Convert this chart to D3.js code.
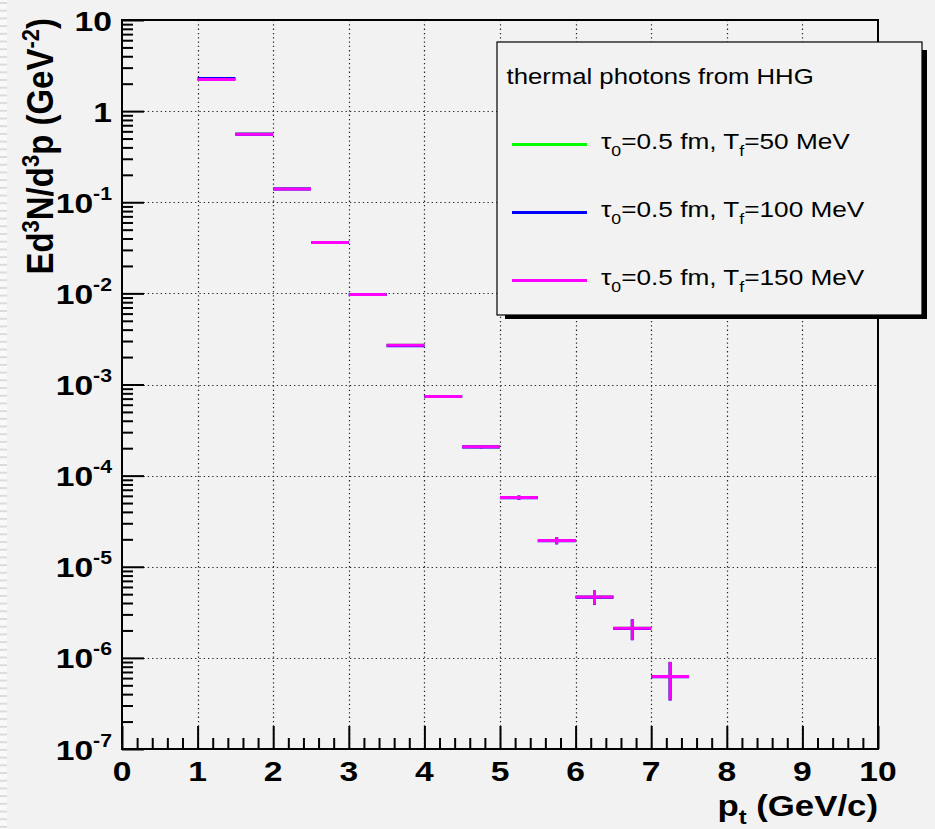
<!DOCTYPE html>
<html>
<head>
<meta charset="utf-8">
<script src="https://cdn.jsdelivr.net/npm/d3@7/dist/d3.min.js"></script>
<style>
  html, body { margin: 0; padding: 0; background: #f2f2f2; }
  svg { display: block; }
  text { font-family: "Liberation Sans", Arial, Helvetica, sans-serif; fill: #000; }
</style>
</head>
<body>
<svg id="chart" width="935" height="829"></svg>
<script>
// Thermal photon spectra from a hadron gas: three freeze-out temperatures.
const ptCenters = [1.25, 1.75, 2.25, 2.75, 3.25, 3.75, 4.25, 4.75, 5.25, 5.75, 6.25, 6.75, 7.25];
const binHalfWidth = 0.25;

const yieldTf50  = [2.23, 0.562, 0.1405, 0.0362, 0.00973, 0.00270, 7.40e-4, 2.07e-4, 5.75e-5, 1.94e-5, 4.67e-6, 2.11e-6, 6.24e-7];
const yieldTf100 = [2.28, 0.556, 0.1395, 0.0362, 0.00970, 0.00266, 7.38e-4, 2.06e-4, 5.73e-5, 1.93e-5, 4.64e-6, 2.10e-6, 6.20e-7];
const yieldTf150 = [2.23, 0.556, 0.1400, 0.0362, 0.00973, 0.00270, 7.39e-4, 2.07e-4, 5.75e-5, 1.94e-5, 4.67e-6, 2.11e-6, 6.24e-7];
const errTf150   = [0.004, 0.001, 0.0003, 0.0001, 0.00003, 0.00001, 2e-6, 7e-6, 3e-6, 1.7e-6, 0.84e-6, 0.54e-6, 2.8e-7];

const seriesNames  = ["\u03c4|0|=0.5 fm, T|f|=50 MeV", "\u03c4|0|=0.5 fm, T|f|=100 MeV", "\u03c4|0|=0.5 fm, T|f|=150 MeV"];
const seriesColors = ["#00ff00", "#0000ff", "#ff00ff"];
const legendTitle = "thermal photons from HHG";

const xTickValues = [0, 1, 2, 3, 4, 5, 6, 7, 8, 9, 10];
const yTickExponents = [1, 0, -1, -2, -3, -4, -5, -6, -7];

const STRETCH = 1.18;   // glyphs are drawn slightly wide

const svg = d3.select("#chart");
const W = 935, H = 829;
const frame = { left: 122, right: 878, top: 20, bottom: 749 };

// page background and the narrow striped strip on the left edge
svg.append("rect").attr("width", W).attr("height", H).attr("fill", "#f2f2f2");
svg.append("rect").attr("x", 0).attr("y", 0).attr("width", 7).attr("height", H).attr("fill", "#f9f9f9");
svg.append("g").selectAll("rect").data(d3.range(2, H, 7.7)).join("rect")
  .attr("x", 0).attr("y", d => d).attr("width", 7).attr("height", 2).attr("fill", "#dcdcdc");

const x = d3.scaleLinear().domain([0, 10]).range([frame.left, frame.right]);
const y = d3.scaleLog().domain([1e-7, 10]).range([frame.bottom, frame.top]);

// dotted grid
const grid = svg.append("g").attr("stroke", "#222").attr("stroke-width", 1.2).attr("stroke-dasharray", "1.3,3");
grid.selectAll("line.gx").data(xTickValues.slice(1, -1)).join("line")
  .attr("x1", d => Math.round(x(d)) + 0.5).attr("x2", d => Math.round(x(d)) + 0.5)
  .attr("y1", frame.top).attr("y2", frame.bottom);
grid.selectAll("line.gy").data(yTickExponents.slice(1, -1)).join("line")
  .attr("x1", frame.left).attr("x2", frame.right)
  .attr("y1", d => Math.round(y(Math.pow(10, d))) + 0.5).attr("y2", d => Math.round(y(Math.pow(10, d))) + 0.5);

// axis ticks (major and minor) from d3 axes
const xMinor = d3.range(0, 10.001, 0.2).filter(v => Math.abs(v - Math.round(v)) > 1e-6);
const yMinor = [];
yTickExponents.slice(1).forEach(e => { for (let k = 2; k <= 9; k++) yMinor.push(k * Math.pow(10, e)); });

function styleTicks(g) {
  g.select(".domain").remove();
  g.selectAll("text").remove();
  g.selectAll("line").attr("stroke", "#000").attr("stroke-width", 2);
}
svg.append("g").attr("transform", `translate(0,${frame.bottom})`)
  .call(d3.axisTop(x).tickValues(xTickValues).tickSize(23)).call(styleTicks);
svg.append("g").attr("transform", `translate(0,${frame.bottom})`)
  .call(d3.axisTop(x).tickValues(xMinor).tickSize(11)).call(styleTicks);
svg.append("g").attr("transform", `translate(${frame.left},0)`)
  .call(d3.axisRight(y).tickValues(yTickExponents.map(e => Math.pow(10, e))).tickSize(22)).call(styleTicks);
svg.append("g").attr("transform", `translate(${frame.left},0)`)
  .call(d3.axisRight(y).tickValues(yMinor).tickSize(11)).call(styleTicks);

// frame
svg.append("rect").attr("x", frame.left).attr("y", frame.top)
  .attr("width", frame.right - frame.left).attr("height", frame.bottom - frame.top)
  .attr("fill", "none").attr("stroke", "#000").attr("stroke-width", 2);

// stretched text helper
function label(xp, yp, anchor, size, weight, stretch = STRETCH) {
  return svg.append("text")
    .attr("transform", `translate(${xp},${yp}) scale(${stretch},1)`)
    .attr("text-anchor", anchor).attr("font-size", size).attr("font-weight", weight);
}

// x tick labels
xTickValues.forEach(v => label(x(v), frame.bottom + 32, "middle", 28.5, "bold").text(v));

// y tick labels: 10, 1, 10^n
yTickExponents.forEach(e => {
  const yp = y(Math.pow(10, e)) + 10.5;
  const t = label(112, yp, "end", 28.5, "bold");
  if (e === 1) t.text("10");
  else if (e === 0) t.text("1");
  else {
    t.append("tspan").text("10");
    t.append("tspan").attr("font-size", 18).attr("dy", -13).text(String(e));
  }
});

// axis titles
const xt = label(frame.right, 816, "end", 29.5, "bold");
xt.append("tspan").text("p");
xt.append("tspan").attr("font-size", 20).attr("dy", 8).text("t");
xt.append("tspan").attr("dy", -8).text(" (GeV/c)");

const yt = svg.append("text")
  .attr("transform", `translate(53,18) scale(1.1,1) rotate(-90)`)
  .attr("text-anchor", "end").attr("font-size", 33).attr("font-weight", "bold");
yt.append("tspan").text("Ed");
yt.append("tspan").attr("font-size", 22).attr("dy", -13).text("3");
yt.append("tspan").attr("dy", 13).text("N/d");
yt.append("tspan").attr("font-size", 22).attr("dy", -13).text("3");
yt.append("tspan").attr("dy", 13).text("p (GeV");
yt.append("tspan").attr("font-size", 22).attr("dy", -13).text("-2");
yt.append("tspan").attr("dy", 13).text(")");

// histogram points: horizontal bin-width bar plus vertical error bar
const seriesData = [yieldTf50, yieldTf100, yieldTf150];
const marks = svg.append("g");
seriesData.forEach((vals, si) => {
  const g = marks.append("g").attr("stroke", seriesColors[si]).attr("stroke-width", 3);
  g.selectAll("line.h").data(ptCenters).join("line")
    .attr("x1", (d) => x(d - binHalfWidth)).attr("x2", (d) => x(d + binHalfWidth))
    .attr("y1", (d, i) => y(vals[i])).attr("y2", (d, i) => y(vals[i]));
  g.selectAll("line.v").data(ptCenters).join("line")
    .attr("x1", d => x(d)).attr("x2", d => x(d))
    .attr("y1", (d, i) => y(vals[i] + errTf150[i])).attr("y2", (d, i) => y(vals[i] - errTf150[i]));
});

// legend with drop shadow
const lg = { x: 497, y: 42, w: 425, h: 273 };
svg.append("rect").attr("x", 505).attr("y", 50).attr("width", 422).attr("height", 269).attr("fill", "#000");
svg.append("rect").attr("x", lg.x).attr("y", lg.y).attr("width", lg.w).attr("height", lg.h)
  .attr("fill", "#f2f2f2").attr("stroke", "#000").attr("stroke-width", 1.2);
label(506.5, 84, "start", 21.8, "normal").text(legendTitle);
const entryY = [144.5, 212.5, 280.5];
seriesNames.forEach((name, i) => {
  svg.append("line").attr("x1", 512).attr("x2", 587).attr("y1", entryY[i]).attr("y2", entryY[i])
    .attr("stroke", seriesColors[i]).attr("stroke-width", 3);
  const t = label(601, entryY[i] + 4.5, "start", 22.2, "normal");
  const parts = name.split("|");
  parts.forEach((p, k) => {
    if (k % 2 === 1) t.append("tspan").attr("font-size", 15).attr("dy", 7).text(p);
    else t.append("tspan").attr("dy", k === 0 ? 0 : -7).text(p);
  });
});
</script>
</body>
</html>
